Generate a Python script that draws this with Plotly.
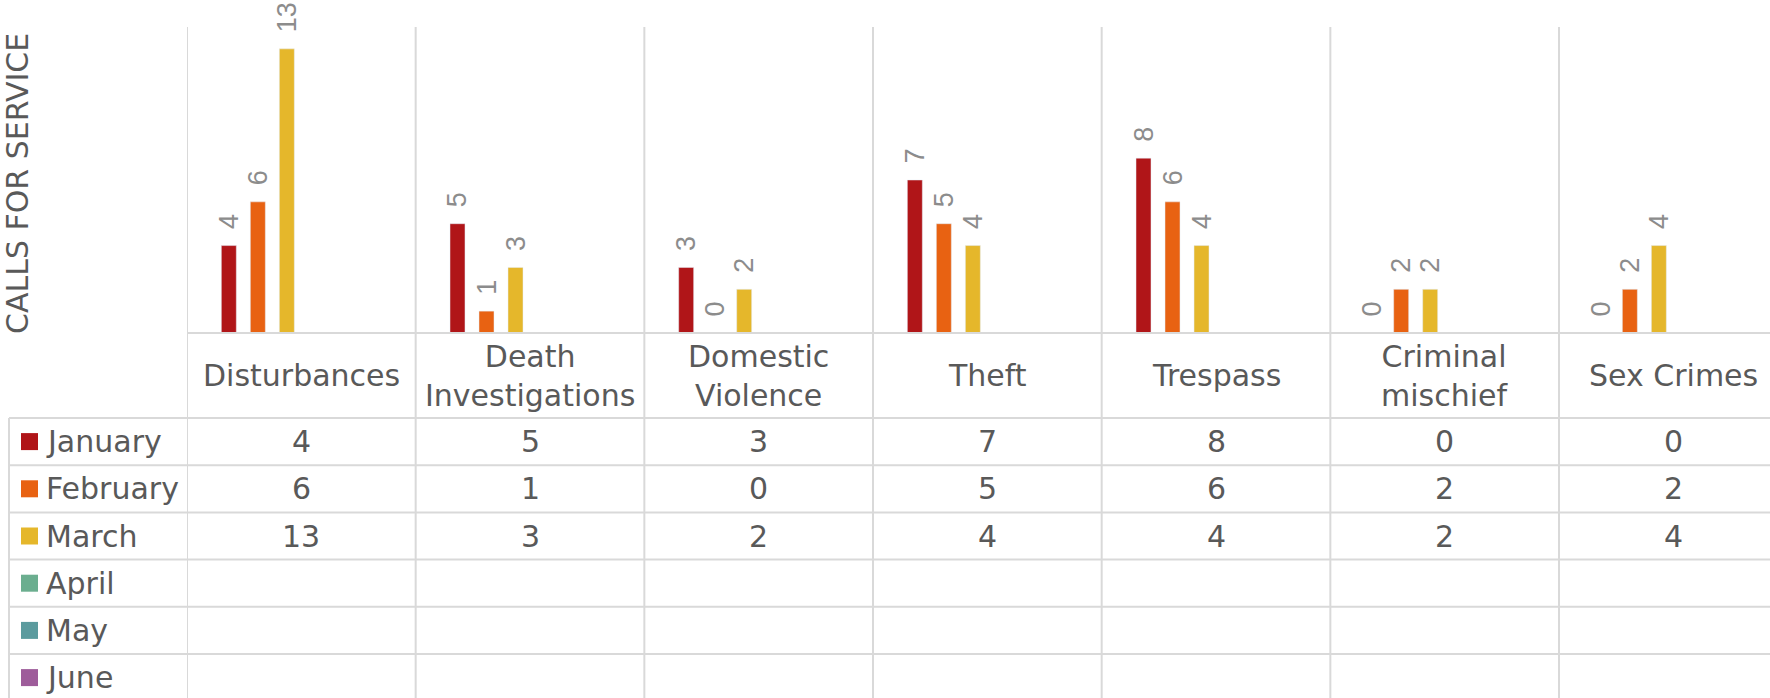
import plotly.graph_objects as go

categories = ["Disturbances", "Death<br>Investigations", "Domestic<br>Violence", "Theft",
              "Trespass", "Criminal<br>mischief", "Sex Crimes"]
months = ["January", "February", "March", "April", "May", "June"]
january = [4, 5, 3, 7, 8, 0, 0]
february = [6, 1, 0, 5, 6, 2, 2]
march = [13, 3, 2, 4, 4, 2, 4]
april = [None, None, None, None, None, None, None]
may = [None, None, None, None, None, None, None]
june = [None, None, None, None, None, None, None]
series = [january, february, march, april, may, june]
colors = ["#B01518", "#E86212", "#E5B72B", "#6BAE8F", "#5B9B9E", "#9E5C9A"]

# page geometry (px)
W, H = 1770, 698
plot_left, col_w, table_left = 187, 228.67, 9
top, base, head_bottom, row_h = 27, 333, 418, 47.2
grid = "#D9D9D9"
txt = "#595959"
font = "DejaVu Sans"


def yp(px):
    return 1 - px / H


fig = go.Figure()
for name, vals, c in zip(months, series, colors):
    fig.add_trace(go.Bar(
        x=categories, y=vals, name=name, marker_color=c,
        texttemplate="\u2002%{y}", textposition="outside", textangle=-90,
        textfont=dict(family="Liberation Sans", size=27, color="#8C8C8C"),
        constraintext="none", cliponaxis=False, showlegend=False,
    ))

shapes = []
# vertical lines: category boundaries
for i in range(len(categories) + 1):
    shapes.append(dict(type="line", xref="x", yref="paper", x0=i - 0.5, x1=i - 0.5,
                       y0=yp(top), y1=0, line=dict(color=grid, width=2)))
# baseline / table row lines
shapes.append(dict(type="line", xref="paper", yref="paper", x0=plot_left / W, x1=1,
                   y0=yp(base), y1=yp(base), line=dict(color=grid, width=2)))
for r in range(len(months)):
    y = head_bottom + r * row_h
    shapes.append(dict(type="line", xref="paper", yref="paper", x0=table_left / W, x1=1,
                       y0=yp(y), y1=yp(y), line=dict(color=grid, width=2)))
shapes.append(dict(type="line", xref="paper", yref="paper", x0=table_left / W, x1=table_left / W,
                   y0=yp(head_bottom), y1=0, line=dict(color=grid, width=2)))

annotations = []
# header row
for cat in categories:
    annotations.append(dict(x=cat, y=yp((base + head_bottom) / 2), xref="x", yref="paper",
                            text=cat, showarrow=False, xanchor="center", yanchor="middle",
                            font=dict(family=font, size=30, color=txt)))
# table rows
for r, (name, vals, c) in enumerate(zip(months, series, colors)):
    yc = head_bottom + (r + 0.5) * row_h
    shapes.append(dict(type="rect", xref="paper", yref="paper",
                       x0=21 / W, x1=38 / W, y0=yp(yc - 8.5), y1=yp(yc + 8.5),
                       fillcolor=c, line=dict(width=0)))
    annotations.append(dict(x=44 / W, y=yp(yc), xref="paper", yref="paper", text=name,
                            showarrow=False, xanchor="left", yanchor="middle",
                            font=dict(family=font, size=30, color=txt)))
    for cat, v in zip(categories, vals):
        if v is None:
            continue
        annotations.append(dict(x=cat, y=yp(yc), xref="x", yref="paper", text=str(v),
                                showarrow=False, xanchor="center", yanchor="middle",
                                font=dict(family=font, size=30, color=txt)))

annotations.append(dict(x=18 / W, y=yp((top + base) / 2 + 4), xref="paper", yref="paper",
                        text="CALLS FOR SERVICE", textangle=-90, showarrow=False,
                        xanchor="center", yanchor="middle",
                        font=dict(family=font, size=30, color=txt)))

fig.update_layout(
    width=W, height=H, margin=dict(l=0, r=0, t=0, b=0),
    paper_bgcolor="white", plot_bgcolor="white",
    barmode="group", bargap=0.239, bargroupgap=0.483,
    xaxis=dict(domain=[plot_left / W, 1], range=[-0.5, -0.5 + (W - plot_left) / col_w],
               showticklabels=False, showgrid=False, zeroline=False, showline=False),
    yaxis=dict(domain=[yp(base), yp(top)], range=[0, 14],
               showticklabels=False, showgrid=False, zeroline=False, showline=False),
    shapes=shapes, annotations=annotations,
)

fig.write_html("out.html", config={"displayModeBar": False},
               post_script="document.body.style.margin='0';document.body.style.overflow='hidden';")
